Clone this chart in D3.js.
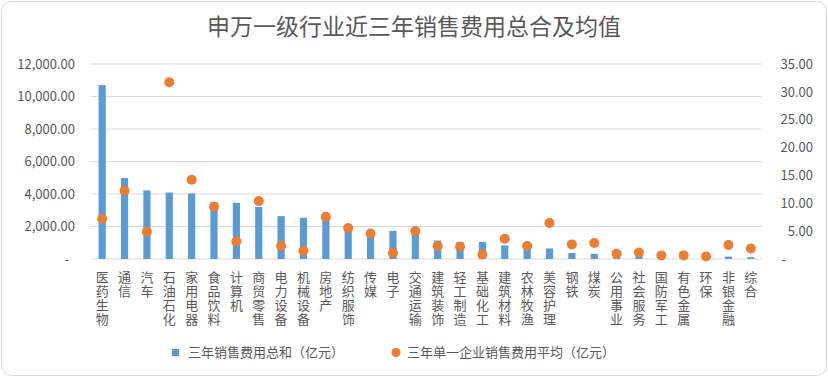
<!DOCTYPE html>
<html>
<head>
<meta charset="utf-8">
<script src="https://cdn.jsdelivr.net/npm/d3@7"></script>
<style>
  body { margin: 0; background: #fff; }
  svg text { font-family: "Noto Sans CJK SC", "Noto Sans", sans-serif; fill: #595959; }
  .cat { writing-mode: vertical-rl; text-orientation: upright; }
</style>
</head>
<body>
<div id="chart"></div>
<script>
// industry names (申万一级)
const industries = ['医药生物', '通信', '汽车', '石油石化', '家用电器', '食品饮料', '计算机', '商贸零售',
  '电力设备', '机械设备', '房地产', '纺织服饰', '传媒', '电子', '交通运输', '建筑装饰', '轻工制造',
  '基础化工', '建筑材料', '农林牧渔', '美容护理', '钢铁', '煤炭', '公用事业', '社会服务', '国防军工',
  '有色金属', '环保', '非银金融', '综合'];

// 三年销售费用总和 (亿元)
const totals = [10700, 4980, 4220, 4090, 4030, 3500, 3460, 3210, 2640, 2540, 2450, 1950, 1750, 1730,
  1700, 1140, 1050, 1045, 840, 770, 650, 370, 310, 300, 290, 250, 220, 180, 150, 110];

// 三年单一企业销售费用平均 (亿元)
const averages = [7.22, 12.24, 4.89, 31.72, 14.21, 9.37, 3.15, 10.39, 2.33, 1.49, 7.58, 5.55, 4.59, 1.08,
  5.02, 2.33, 2.20, 0.82, 3.64, 2.33, 6.45, 2.62, 2.87, 0.95, 1.18, 0.65, 0.65, 0.47, 2.51, 1.90];

const leftTicks = [0, 2000, 4000, 6000, 8000, 10000, 12000];
const rightTicks = [0, 5, 10, 15, 20, 25, 30, 35];

const seriesNames = ['三年销售费用总和（亿元）', '三年单一企业销售费用平均（亿元）'];
const title = '申万一级行业近三年销售费用总合及均值';

const W = 828, H = 377;
const margin = { top: 64, right: 66, bottom: 118, left: 91 };
const width = W - margin.left - margin.right;
const height = H - margin.top - margin.bottom;

const barColor = '#5b9bd5', dotColor = '#ed7d31', gridColor = '#d9d9d9';

const svg = d3.select('#chart').append('svg')
  .attr('width', W).attr('height', H);

// chart frame
svg.append('rect')
  .attr('x', 1.5).attr('y', 1.5)
  .attr('width', W - 3).attr('height', H - 3)
  .attr('rx', 10)
  .attr('fill', '#fff')
  .attr('stroke', gridColor);

svg.append('text')
  .attr('x', W / 2).attr('y', 35)
  .attr('text-anchor', 'middle')
  .style('font-size', '23px')
  .text(title);

const g = svg.append('g').attr('transform', `translate(${margin.left},${margin.top})`);

const x = d3.scaleBand().domain(industries).range([0, width]);
const yL = d3.scaleLinear().domain([0, 12000]).range([height, 0]);
const yR = d3.scaleLinear().domain([0, 35]).range([height, 0]);

const fmt = d3.format(',.2f');

// gridlines
g.append('g').selectAll('line')
  .data(leftTicks)
  .join('line')
  .attr('x1', 0).attr('x2', width)
  .attr('y1', d => yL(d)).attr('y2', d => yL(d))
  .attr('stroke', gridColor);

// left axis
const leftAxis = g.append('g')
  .call(d3.axisLeft(yL).tickValues(leftTicks).tickSize(0).tickPadding(16)
    .tickFormat(d => d === 0 ? '-' : fmt(d)));
leftAxis.select('.domain').remove();
leftAxis.selectAll('text').style('font-size', '13px').attr('fill', '#595959');
leftAxis.selectAll('.tick').filter(d => d === 0).select('text').attr('x', -22);

// right axis
const rightAxis = g.append('g')
  .attr('transform', `translate(${width},0)`)
  .call(d3.axisRight(yR).tickValues(rightTicks).tickSize(0).tickPadding(51)
    .tickFormat(d => d === 0 ? '-' : fmt(d)));
rightAxis.select('.domain').remove();
rightAxis.selectAll('text').style('font-size', '13px').attr('fill', '#595959')
  .attr('text-anchor', 'end');
rightAxis.selectAll('.tick').filter(d => d === 0).select('text').attr('x', 24);

// bars
const barW = x.bandwidth() * 0.32;
g.append('g').selectAll('rect')
  .data(industries)
  .join('rect')
  .attr('x', d => x(d) + (x.bandwidth() - barW) / 2)
  .attr('y', (d, i) => yL(totals[i]))
  .attr('width', barW)
  .attr('height', (d, i) => height - yL(totals[i]))
  .attr('fill', barColor);

// dots
g.append('g').selectAll('circle')
  .data(industries)
  .join('circle')
  .attr('cx', d => x(d) + x.bandwidth() / 2)
  .attr('cy', (d, i) => yR(averages[i]))
  .attr('r', 5)
  .attr('fill', dotColor);

// vertical category labels (upright characters)
g.append('g').selectAll('text')
  .data(industries)
  .join('text')
  .attr('class', 'cat')
  .attr('x', d => x(d) + x.bandwidth() / 2)
  .attr('y', height + 12)
  .style('font-size', '13px')
  .style('letter-spacing', '0.8px')
  .text(d => d);

// legend
const legend = svg.append('g');
legend.append('rect')
  .attr('x', 172).attr('y', 349).attr('width', 7).attr('height', 7)
  .attr('fill', barColor);
legend.append('text')
  .attr('x', 188).attr('y', 357)
  .style('font-size', '13px')
  .text(seriesNames[0]);
legend.append('circle')
  .attr('cx', 396).attr('cy', 352.5).attr('r', 4.5)
  .attr('fill', dotColor);
legend.append('text')
  .attr('x', 407).attr('y', 357)
  .style('font-size', '13px')
  .text(seriesNames[1]);
</script>
</body>
</html>
